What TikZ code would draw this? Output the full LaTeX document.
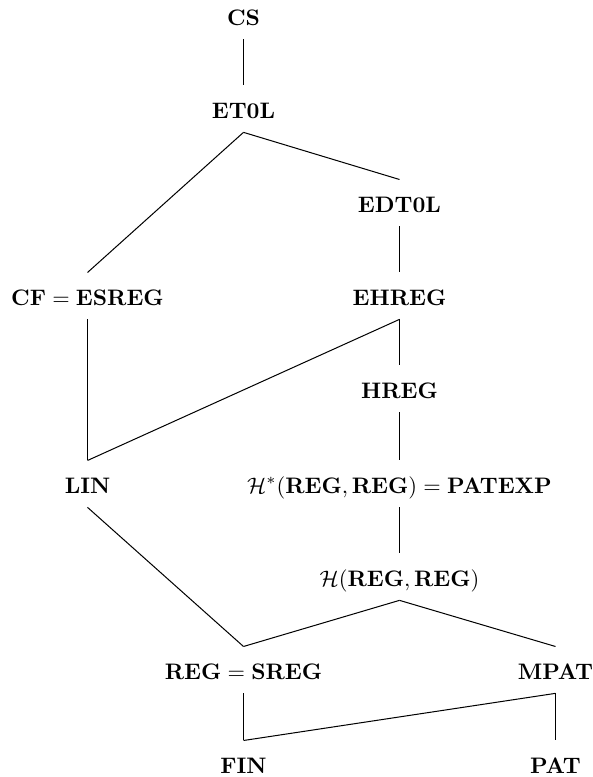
\documentclass[tikz,border=0pt]{standalone}
\begin{document}
\begin{tikzpicture}[x=0.446pt,y=-0.446pt,
  cls/.style={anchor=base,inner sep=0pt,text height=14.3pt,text depth=6.2pt},
  edge/.style={draw=black,line width=0.45pt}]
\useasboundingbox (0,0) rectangle (592,777);
% language classes, one row per level
\node[cls] (cs)     at (243.5,25)  {$\mathbf{CS}$};
\node[cls] (et0l)   at (243.5,118) {$\mathbf{ET0L}$};
\node[cls] (edt0l)  at (399.5,212) {$\mathbf{EDT0L}$};
\node[cls] (cf)     at (87.5,305)  {$\mathbf{CF} = \mathbf{ESREG}$};
\node[cls] (ehreg)  at (399.5,305) {$\mathbf{EHREG}$};
\node[cls] (hreg)   at (399.5,398) {$\mathbf{HREG}$};
\node[cls] (lin)    at (87.5,493)  {$\mathbf{LIN}$};
\node[cls] (patexp) at (399.5,493) {$\mathcal{H}^*(\mathbf{REG},\mathbf{REG}) = \mathbf{PATEXP}$};
\node[cls] (hrr)    at (399.5,586) {$\mathcal{H}(\mathbf{REG},\mathbf{REG})$};
\node[cls] (reg)    at (243.5,679) {$\mathbf{REG} = \mathbf{SREG}$};
\node[cls] (mpat)   at (555.5,679) {$\mathbf{MPAT}$};
\node[cls] (fin)    at (243.5,773) {$\mathbf{FIN}$};
\node[cls] (pat)    at (555.5,773) {$\mathbf{PAT}$};
% inclusions
\draw[edge] (cs.south) -- (et0l.north);
\draw[edge] (et0l.south) -- (cf.north);
\draw[edge] (et0l.south) -- (edt0l.north);
\draw[edge] (edt0l.south) -- (ehreg.north);
\draw[edge] (cf.south) -- (lin.north);
\draw[edge] (ehreg.south) -- (lin.north);
\draw[edge] (ehreg.south) -- (hreg.north);
\draw[edge] (hreg.south) -- (patexp.north);
\draw[edge] (patexp.south) -- (hrr.north);
\draw[edge] (hrr.south) -- (reg.north);
\draw[edge] (hrr.south) -- (mpat.north);
\draw[edge] (lin.south) -- (reg.north);
\draw[edge] (reg.south) -- (fin.north);
\draw[edge] (mpat.south) -- (fin.north);
\draw[edge] (mpat.south) -- (pat.north);
\end{tikzpicture}
\end{document}
